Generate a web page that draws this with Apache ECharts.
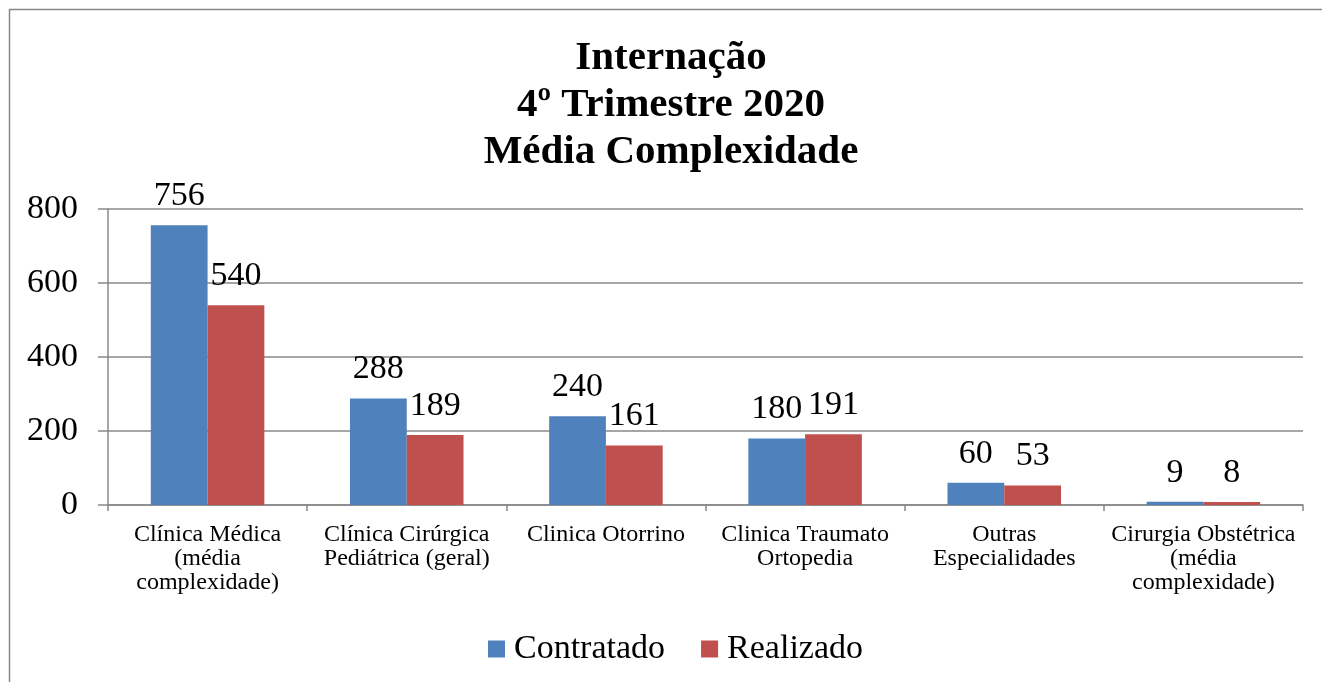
<!DOCTYPE html>
<html>
<head>
<meta charset="utf-8">
<script src="https://cdn.jsdelivr.net/npm/echarts@6/dist/echarts.min.js"></script>
<style>html,body{margin:0;padding:0;background:#fff}#c{width:1322px;height:682px}</style>
</head>
<body>
<div id="c"></div>
<script>
var titleLines = ['Internação', '4º Trimestre 2020', 'Média Complexidade'];
var categories = ['Clínica Médica\n(média\ncomplexidade)', 'Clínica Cirúrgica\nPediátrica (geral)', 'Clinica Otorrino', 'Clinica Traumato\nOrtopedia', 'Outras\nEspecialidades', 'Cirurgia Obstétrica\n(média\ncomplexidade)'];
var contratado = [756, 288, 240, 180, 60, 9];
var realizado = [540, 189, 161, 191, 53, 8];
var seriesNames = ['Contratado', 'Realizado'];
var yTicks = {min: 0, max: 800, interval: 200};

var font = '"Liberation Serif", "Times New Roman", serif';
var chart = echarts.init(document.getElementById('c'), null, {renderer: 'canvas'});
var labelStyle = {show: true, position: 'top', distance: 12, color: '#000', fontFamily: font, fontSize: 34};
chart.setOption({
  animation: false,
  graphic: [{type: 'rect', shape: {x: 9.5, y: 9.5, width: 1330, height: 700}, style: {fill: 'none', stroke: '#888', lineWidth: 1.5}, z: -1}],
  title: {
    text: titleLines.join('\n'), left: 666, top: 30, textAlign: 'center',
    textStyle: {fontFamily: font, fontWeight: 'bold', fontSize: 41, lineHeight: 47, color: '#000'}
  },
  legend: {
    data: seriesNames, top: 627, left: 483, itemWidth: 17, itemHeight: 17, itemGap: 36,
    icon: 'rect',
    textStyle: {fontFamily: font, fontSize: 34, color: '#000', padding: [0,0,0,4]}
  },
  grid: {left: 108, right: 19, top: 209, bottom: 177, containLabel: false},
  xAxis: {
    type: 'category', data: categories,
    axisLine: {lineStyle: {color: '#888', width: 1.5}},
    axisTick: {show: true, length: 6, alignWithLabel: false, lineStyle: {color: '#888', width: 1.5}},
    axisLabel: {interval: 0, margin: 18, fontFamily: font, fontSize: 24, lineHeight: 24, color: '#000', align: 'center'}
  },
  yAxis: {
    type: 'value', min: yTicks.min, max: yTicks.max, interval: yTicks.interval,
    axisLine: {show: true, lineStyle: {color: '#888', width: 1.5}},
    axisTick: {show: true, length: 10, lineStyle: {color: '#888', width: 1.5}},
    splitLine: {lineStyle: {color: '#888', width: 1.5}},
    axisLabel: {margin: 30, fontFamily: font, fontSize: 34, color: '#000'}
  },
  series: [
    {name: seriesNames[0], type: 'bar', data: contratado, barGap: '0%', barCategoryGap: '43%',
     itemStyle: {color: '#4f81bd'}, label: labelStyle},
    {name: seriesNames[1], type: 'bar', data: realizado,
     itemStyle: {color: '#c0504d'}, label: labelStyle}
  ]
});
</script>
</body>
</html>
